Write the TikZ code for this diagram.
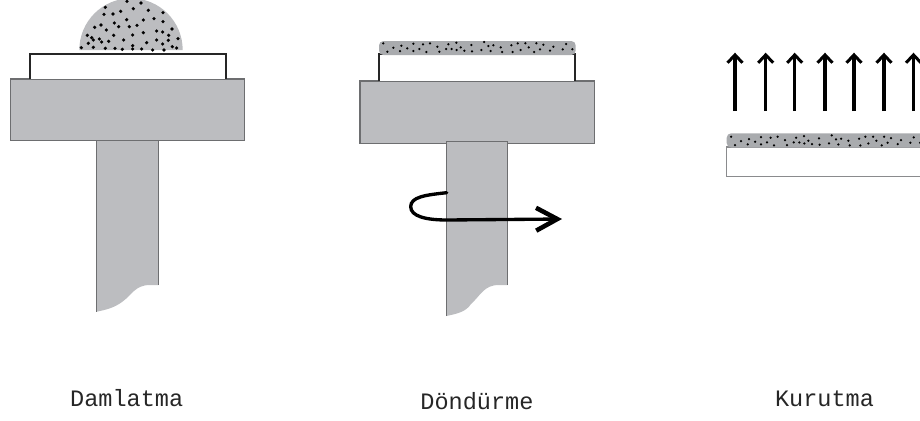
\documentclass[tikz,border=0pt]{standalone}
\usepackage{fontspec}
\setmonofont{Liberation Mono}
\usetikzlibrary{arrows.meta}
\definecolor{standgray}{HTML}{BCBDC0}
\definecolor{filmgray}{HTML}{A9ABAE}
\definecolor{edgegray}{HTML}{6D6E70}
\tikzset{
	standfill/.style={fill=standgray},
	standedge/.style={draw=edgegray, line width=0.7pt},
	plate/.style={draw=black!85, line width=1.1pt},
	liftarrow/.style={line width=1.9pt, -{Straight Barb[length=4.5pt,width=8.5pt,line width=1.7pt]}},
	spinarrow/.style={line width=1.9pt, line cap=round, -{Straight Barb[length=12pt,width=13pt,line width=2.6pt]}},
	steplabel/.style={font=\ttfamily\fontsize{13.4}{16}\selectfont, anchor=base, text=black!85}
}
% dots of the thin film, in 3x crop units
\newcommand{\filmdots}{
	\foreach \x/\y in {100/40,112/65,130/53,150/63,154/47,172/55,190/41,190/63,208/57,219/43,240/40,229/66,262/50,268/65,295/43,288/57,305/57,319/38,320/60,332/52,343/62,364/45,366/64,394/60,402/36,415/48,430/46,422/63,452/52,456/66,484/46,488/66,503/40,512/60,526/40,536/52,552/66,559/40,570/58,580/44,600/62,610/50,638/58,648/42,667/58}
		\fill ({\x/3},{\y/3}) circle (1.25);
}
\begin{document}
\begin{tikzpicture}[x=0.02cm, y=-0.02cm]
	
	\useasboundingbox (0,0) rectangle (920,420);
	\clip (0,0) rectangle (920,420);
	
	% Damlatma
	\coordinate (A) at (10.7,79);
	\coordinate (B) at (244.7,140.7);
	
	\fill[standfill] (96.7,140) -- (158.7,140) -- (158.7,285) -- (150,285)
		.. controls (135,285) and (132,295) .. (122,302)
		.. controls (114,308) and (105,310) .. (96.7,311.7) -- cycle;
	\draw[standedge] (96.7,140.7) -- (96.7,311.7);
	\draw[standedge] (158.7,140.7) -- (158.7,285);
	\draw[standfill, standedge] (A) rectangle (B);
	\draw[plate, fill=white] (30,79) -- (30,53.7) -- (225.7,53.7) -- (225.7,79);
	\fill[standfill] (79.3,50) arc[start angle=180, end angle=360, radius=51.7] -- cycle;
	\foreach \x/\y in {381/4,423/9,316/22,400/26,445/31,489/38,312/43,339/42,362/34,380/59,430/60,462/56,489/65,343/69,356/80,303/75,284/82,388/80,411/76,319/90,516/87,470/93,488/96,430/98,398/105,341/106,262/106,506/106,534/116,505/121,470/120,275/113,280/120,298/117,305/126,326/124,371/120,440/128,488/132,265/130,517/140,530/144,244/143,280/142,316/145,345/145,367/148,398/137,398/147,425/147,458/150,492/150}
		\fill ({\x/3},{\y/3}) circle (1.8);
	
	% Dondurme
	\coordinate (C) at (360,81);
	\coordinate (D) at (594.3,143.3);
	
	\draw[standfill, standedge] (C) rectangle (D);
	\fill[standfill] (446.3,141.5) -- (507.7,141.5) -- (507.7,285) -- (499,285)
		.. controls (484,285) and (481,295) .. (471,304)
		.. controls (466,312) and (456,314) .. (446.3,316) -- cycle;
	\draw[standedge] (446.3,316) -- (446.3,141.5) -- (507.7,141.5) -- (507.7,285);
	\draw[plate, fill=white] (379.3,81) -- (379.3,54) -- (574.7,54) -- (574.7,81);
	\fill[filmgray, rounded corners=2.5pt] (379,41) rectangle (575.7,55);
	\begin{scope}[shift={(350,30)}]
		\filmdots
	\end{scope}
	
	\coordinate (S1) at (446.7,192.7);
	\coordinate (S2) at (410.7,206.7);
	\coordinate (S3) at (447,220);
	\coordinate (S4) at (562,219);
	\draw[spinarrow] (S1) .. controls (425,195) and (410.7,197) .. (S2)
		.. controls (410.7,216) and (425,220) .. (S3) -- (S4);
	
	% Kurutma
	\draw[draw=edgegray!80, line width=0.7pt, fill=white] (925,147) -- (726.7,147) -- (726.7,176.7) -- (925,176.7);
	\fill[filmgray, rounded corners=2.5pt] (726.7,133.3) rectangle (930,147.5);
	\begin{scope}[shift={(697.7,123.4)}]
		\filmdots
	\end{scope}
	
	\foreach \x in {735,765.7,794.7,825,854,884,913.5}
		\draw[liftarrow] (\x,111) -- (\x,52.7);
	
	% Labels
	\node[steplabel] (damlatma) at (126.7,406.7) {Damlatma};
	\node[steplabel] (dondurme) at (477,409) {Döndürme};
	\node[steplabel] (kurutma) at (824.5,406.7) {Kurutma};
	
\end{tikzpicture}
\end{document}
